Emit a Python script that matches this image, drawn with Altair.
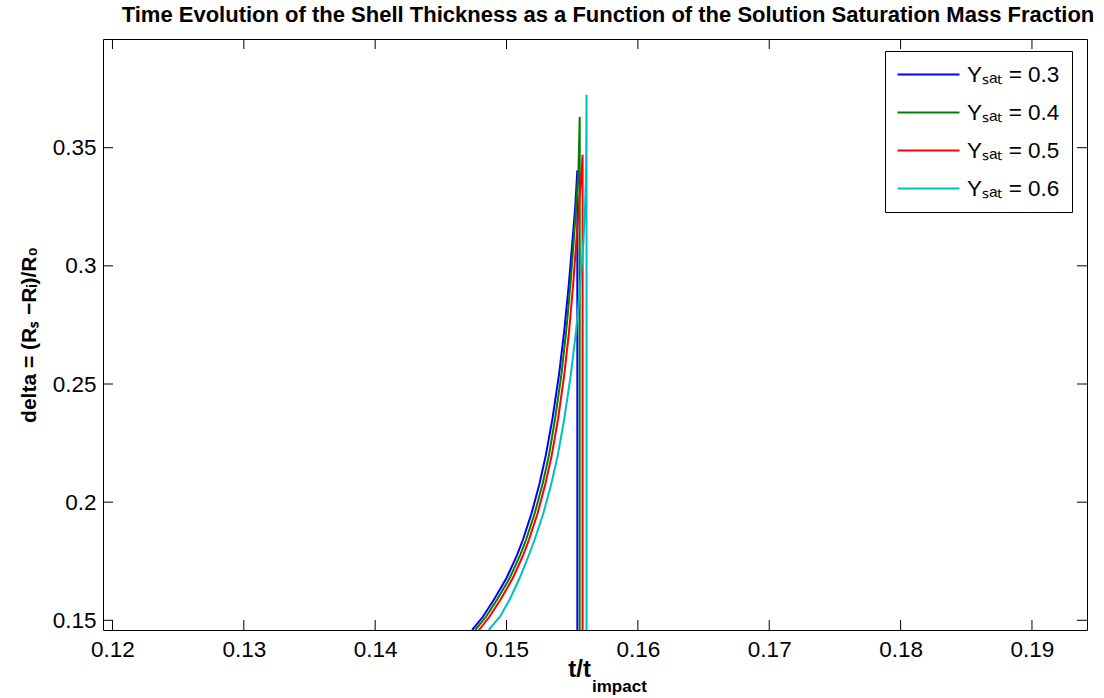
import altair as alt
import pandas as pd

# ---- data ----
labels = ["Yₛₐₜ = 0.3", "Yₛₐₜ = 0.4", "Yₛₐₜ = 0.5", "Yₛₐₜ = 0.6"]
colors = ["#0000FF", "#008000", "#FF0000", "#00BFBF"]

d_grid = [0.1459, 0.1515, 0.1589, 0.1679, 0.1776, 0.1843, 0.1952, 0.2076,
          0.2198, 0.2354, 0.2542, 0.2728, 0.2926, 0.3094, 0.3249, 0.3404]

t_03 = [0.14738, 0.14820, 0.14906, 0.15000, 0.15080, 0.15126, 0.15190, 0.15250,
        0.15299, 0.15350, 0.15400, 0.15440, 0.15475, 0.15500, 0.15523, 0.15539, 0.15539]
d_03 = d_grid + [0.1400]

t_04 = [0.14762, 0.14844, 0.14930, 0.15024, 0.15104, 0.15150, 0.15214, 0.15274,
        0.15323, 0.15370, 0.15418, 0.15455, 0.15487, 0.15510, 0.15530, 0.15548,
        0.15557, 0.15557]
d_04 = d_grid + [0.3631, 0.1400]

t_05 = [0.14790, 0.14870, 0.14956, 0.15048, 0.15127, 0.15172, 0.15236, 0.15295,
        0.15344, 0.15393, 0.15440, 0.15477, 0.15508, 0.15530, 0.15550, 0.15572,
        0.15579, 0.15579]
d_05 = d_grid + [0.3470, 0.1400]

t_06 = [0.14864, 0.14950, 0.15025, 0.15100, 0.15170, 0.15215, 0.15280, 0.15340,
        0.15390, 0.15440, 0.15490, 0.15530, 0.15562, 0.15585, 0.15598, 0.15606,
        0.15609, 0.15609]
d_06 = d_grid + [0.3724, 0.1400]

x_ticks = [0.12, 0.13, 0.14, 0.15, 0.16, 0.17, 0.18, 0.19]
y_ticks = [0.15, 0.2, 0.25, 0.3, 0.35]
x_domain = [0.11928, 0.19419]
y_domain = [0.1459, 0.396]

rows = []
for lab, ts, ds in zip(labels, [t_03, t_04, t_05, t_06], [d_03, d_04, d_05, d_06]):
    for i, (t, d) in enumerate(zip(ts, ds)):
        rows.append({"series": lab, "t": t, "delta": d, "i": i})
df = pd.DataFrame(rows)

W, H = 984, 591
TICK = 10
FONT = "Liberation Sans"

xs = alt.Scale(domain=x_domain, nice=False, zero=False)
ys = alt.Scale(domain=y_domain, nice=False, zero=False)

x_axis = alt.Axis(values=x_ticks, format="~g", ticks=False, domain=False, grid=False,
                  labelFontSize=22.5, labelFont=FONT, labelColor="black", labelPadding=8,
                  title=None)
y_axis = alt.Axis(values=y_ticks, format="~g", ticks=False, domain=False, grid=False,
                  labelFontSize=22.5, labelFont=FONT, labelColor="black", labelPadding=7,
                  title="delta = (Rₛ −Rᵢ)/R₀", titleFont=FONT, titleFontSize=21,
                  titleFontWeight="bold", titleColor="black", titlePadding=13)

lines = alt.Chart(df).mark_line(strokeWidth=2, clip=True).encode(
    x=alt.X("t:Q", scale=xs, axis=x_axis),
    y=alt.Y("delta:Q", scale=ys, axis=y_axis),
    color=alt.Color("series:N", scale=alt.Scale(domain=labels, range=colors),
                    legend=alt.Legend(
                        orient="none", legendX=782, legendY=12, title=None,
                        direction="vertical", strokeColor="black", fillColor="white",
                        padding=12, symbolType="M-3,0H3", symbolSize=427,
                        symbolStrokeWidth=2, symbolOffset=20, labelOffset=27,
                        labelFontSize=22.5, labelFont=FONT, labelColor="black",
                        rowPadding=15, cornerRadius=0, labelLimit=300)),
    order="i:Q",
)

xt = pd.DataFrame({"v": x_ticks})
yt = pd.DataFrame({"v": y_ticks})

xb = alt.Chart(xt).mark_rule(color="black", strokeWidth=1).encode(
    x=alt.X("v:Q", scale=xs, axis=x_axis), y=alt.value(H), y2=alt.value(H - TICK))
xtp = alt.Chart(xt).mark_rule(color="black", strokeWidth=1).encode(
    x=alt.X("v:Q", scale=xs, axis=x_axis), y=alt.value(0), y2=alt.value(TICK))
yl = alt.Chart(yt).mark_rule(color="black", strokeWidth=1).encode(
    y=alt.Y("v:Q", scale=ys, axis=y_axis), x=alt.value(0), x2=alt.value(TICK))
yr = alt.Chart(yt).mark_rule(color="black", strokeWidth=1).encode(
    y=alt.Y("v:Q", scale=ys, axis=y_axis), x=alt.value(W), x2=alt.value(W - TICK))

xt_main = alt.Chart(pd.DataFrame({"s": ["t/t"]})).mark_text(
    align="right", baseline="alphabetic", font=FONT, fontSize=24,
    fontWeight="bold", color="black").encode(
    text="s:N", x=alt.value(488), y=alt.value(638))
xt_sub = alt.Chart(pd.DataFrame({"s": ["impact"]})).mark_text(
    align="left", baseline="alphabetic", font=FONT, fontSize=17,
    fontWeight="bold", color="black").encode(
    text="s:N", x=alt.value(489), y=alt.value(653))

chart = alt.layer(lines, xb, xtp, yl, yr, xt_main, xt_sub).properties(
    width=W, height=H,
    title=alt.TitleParams(
        "Time Evolution of the Shell Thickness as a Function of the Solution Saturation Mass Fraction",
        font=FONT, fontSize=22, fontWeight="bold", color="black",
        anchor="middle", offset=12, dx=13),
    autosize=alt.AutoSizeParams(type="none"),
    padding={"left": 103, "top": 39, "right": 17, "bottom": 67},
    background="white",
).configure_view(stroke="black", strokeWidth=1)

chart.save("out.html", embed_options={"renderer": "svg", "actions": False})
